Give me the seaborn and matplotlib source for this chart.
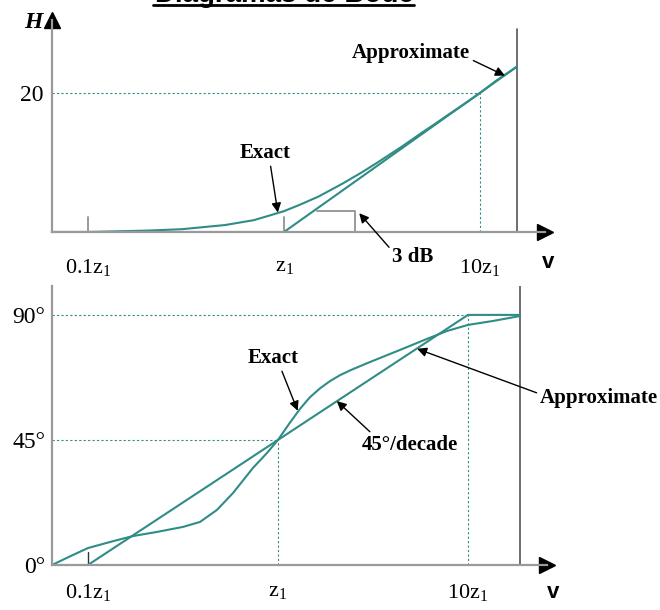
import matplotlib
matplotlib.use("Agg")
import matplotlib.pyplot as plt
from matplotlib.lines import Line2D
from matplotlib.ticker import NullLocator
import numpy as np
import pandas as pd
import seaborn as sns

sns.set_style("white")
plt.rcParams.update({
    "font.family": ["Liberation Serif", "DejaVu Serif"],
    "mathtext.fontset": "custom",
    "mathtext.rm": "Liberation Serif",
    "mathtext.it": "Liberation Serif:italic",
    "text.color": "black",
    "xtick.color": "black",
    "ytick.color": "black",
})

TEAL = "#2f8c86"
GREY = "#9a9a9a"

# ---- data (frequencies as multiples of z1) ----
mag_exact_w = [0.0655, 0.1, 0.2, 0.3, 0.5, 0.7, 0.85, 1.0, 1.2, 1.5, 2.0, 2.5, 3.0,
               4.0, 5.0, 6.0, 7.0, 8.5, 10.0, 12.0, 15.45]
mag_exact_db = [0.0, 0.0, 0.2, 0.4, 1.0, 1.7, 2.4, 3.0, 3.9, 5.1, 7.0, 8.6, 10.0,
                12.3, 14.2, 15.7, 17.0, 18.6, 20.0, 21.7, 23.8]
mag_approx_w = [0.0655, 1.0, 15.45]
mag_approx_db = [0.0, 0.0, 23.8]
bracket_w = [1.47, 2.3, 2.3]
bracket_db = [3.0, 3.0, 0.0]

ph_exact_w = [0.0647, 0.081, 0.1, 0.131, 0.172, 0.231, 0.316, 0.389, 0.477, 0.58,
              0.738, 0.875, 1.0, 1.15, 1.31, 1.47, 1.66, 1.88, 2.12, 2.39, 2.94,
              4.39, 6.0, 7.75, 10.0, 13.5, 18.8]
ph_exact_deg = [0.0, 3.2, 6.1, 8.3, 10.4, 11.9, 13.7, 15.5, 19.8, 25.9,
                34.9, 40.3, 45.0, 51.0, 56.3, 60.3, 63.5, 66.2, 68.3, 70.0, 72.6,
                77.4, 81.2, 84.2, 86.4, 87.8, 89.6]
ph_approx_w = [0.1, 10.0, 18.8]
ph_approx_deg = [0.0, 90.0, 90.0]

x_ticks = [0.1, 1.0, 10.0]
x_labels = [r"$\mathrm{0.1z}_1$", r"$\mathrm{z}_1$", r"$\mathrm{10z}_1$"]
mag_right = 15.45
ph_right = 18.8

W, H = 660, 610
fig = plt.figure(figsize=(W / 100, H / 100), dpi=100)


def px_box(x0, x1, ytop, ybot):
    return [x0 / W, (H - ybot) / H, (x1 - x0) / W, (ybot - ytop) / H]


def style_axes(ax, arrow_y):
    sns.despine(ax=ax)
    for s in ("left", "bottom"):
        ax.spines[s].set_color(GREY)
        ax.spines[s].set_linewidth(1.6)
    ax.set_xscale("log")
    ax.xaxis.set_minor_locator(NullLocator())
    ax.plot(1, 0, marker=">", ms=11, color="black", transform=ax.transAxes, clip_on=False)
    if arrow_y:
        ax.plot(0, 1, marker="^", ms=11, color="black", transform=ax.transAxes, clip_on=False)


def line(ax, x, y, **kw):
    df = pd.DataFrame({"x": x, "y": y})
    sns.lineplot(data=df, x="x", y="y", ax=ax, estimator=None, sort=False, **kw)


dot = dict(color=TEAL, lw=0.8, ls=(0, (2, 2)))
txt = dict(fontsize=15, weight="bold")
arrow = dict(arrowstyle="-|>", color="black", lw=1.0, mutation_scale=14, shrinkA=0, shrinkB=0)

# ---- magnitude ----
ax1 = fig.add_axes(px_box(52, 545, 20, 232))
style_axes(ax1, True)
ax1.set_xlim(0.06551, 21.46)
ax1.set_ylim(0, 30.5)
ax1.plot([ax1.get_xlim()[0], 10], [20, 20], **dot)
ax1.plot([10, 10], [0, 20], **dot)
ax1.plot([mag_right, mag_right], [0, 29.2], color="#555555", lw=1.2)
for t in x_ticks[:2]:
    ax1.plot([t, t], [0, 2.2], color=GREY, lw=1.4)
line(ax1, bracket_w, bracket_db, color=GREY, lw=1.4)
line(ax1, mag_approx_w, mag_approx_db, color=TEAL, lw=1.5)
line(ax1, mag_exact_w, mag_exact_db, color=TEAL, lw=1.5)
ax1.set_xticks(x_ticks, labels=x_labels, fontsize=16)
ax1.set_yticks([20], labels=["20"], fontsize=17)
ax1.tick_params(axis="x", length=0, pad=18)
ax1.tick_params(axis="y", length=0, pad=6)
ax1.set_xlabel("")
ax1.set_ylabel("")

ax1.annotate("Approximate", xy=(13.4, 22.5), xytext=(411, H - 53), textcoords="figure pixels",
             ha="center", va="center", arrowprops=dict(relpos=(1.0, 0.2), **arrow), **txt)
ax1.annotate("Exact", xy=(0.93, 2.8), xytext=(265, H - 153), textcoords="figure pixels",
             ha="center", va="center", arrowprops=dict(relpos=(0.6, 0.0), **arrow), **txt)
ax1.annotate("3 dB", xy=(2.42, 2.7), xytext=(413, H - 257), textcoords="figure pixels",
             ha="center", va="center", arrowprops=dict(relpos=(0.0, 0.8), **arrow), **txt)

# ---- phase ----
ax2 = fig.add_axes(px_box(52, 547, 286, 565))
style_axes(ax2, False)
ax2.set_xlim(0.0647, 26.05)
ax2.set_ylim(0, 100.4)
x0 = ax2.get_xlim()[0]
ax2.plot([x0, 1], [45, 45], **dot)
ax2.plot([1, 1], [0, 45], **dot)
ax2.plot([x0, 10], [90, 90], **dot)
ax2.plot([10, 10], [0, 90], **dot)
ax2.plot([ph_right, ph_right], [0, 100.4], color="#555555", lw=1.2)
ax2.plot([0.1, 0.1], [0, 4.7], color="#333333", lw=1.0)
line(ax2, ph_approx_w, ph_approx_deg, color=TEAL, lw=1.5)
line(ax2, ph_exact_w, ph_exact_deg, color=TEAL, lw=1.5)
ax2.set_xticks(x_ticks, labels=x_labels, fontsize=16)
ax2.set_yticks([0, 45, 90], labels=["0°", "45°", "90°"], fontsize=17)
ax2.tick_params(axis="x", length=0, pad=12)
ax2.tick_params(axis="y", length=0, pad=5)
ax2.set_xlabel("")
ax2.set_ylabel("")

ax2.annotate("Exact", xy=(1.27, 55.5), xytext=(273, H - 358), textcoords="figure pixels",
             ha="center", va="center", arrowprops=dict(relpos=(0.65, 0.0), **arrow), **txt)
ax2.annotate("45°/decade", xy=(2.04, 59.0), xytext=(410, H - 445), textcoords="figure pixels",
             ha="center", va="center", arrowprops=dict(relpos=(0.12, 1.0), **arrow), **txt)
ax2.annotate("Approximate", xy=(5.4, 77.8), xytext=(658, H - 398), textcoords="figure pixels",
             ha="right", va="center", arrowprops=dict(relpos=(0.0, 0.7), **arrow), **txt)

# ---- axis letters and title ----
fig.text(33 / W, 1 - 23 / H, "H", fontsize=17, style="italic", weight="bold", ha="center", va="center")
fig.text(548 / W, 1 - 263 / H, "v", fontsize=16, family="Liberation Sans", weight="bold",
         ha="center", va="center")
fig.text(553 / W, 1 - 593 / H, "v", fontsize=16, family="Liberation Sans", weight="bold",
         ha="center", va="center")
fig.text(284 / W, 1 - 2 / H, "Diagramas de Bode", fontsize=20, family="Liberation Sans",
         weight="bold", ha="center", va="baseline")
fig.add_artist(Line2D([153 / W, 414 / W], [1 - 4.5 / H] * 2, color="black", lw=2))

fig.savefig("out.png", dpi=100)
